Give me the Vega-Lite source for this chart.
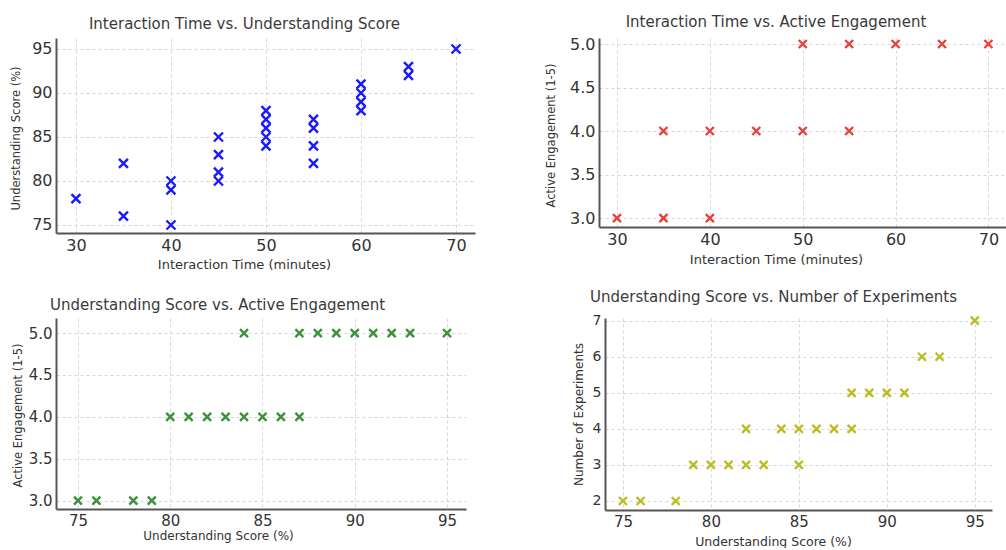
{
  "$schema": "https://vega.github.io/schema/vega-lite/v6.json",
  "background": "white",
  "padding": {"left": 10, "top": 15, "right": 0, "bottom": 0},
  "config": {
    "view": {"stroke": null},
    "font": "DejaVu Sans",
    "title": {"font": "DejaVu Sans", "fontSize": 15, "fontWeight": "normal", "color": "#3a3a3a", "anchor": "middle", "frame": "group", "baseline": "middle"},
    "axis": {
      "labelFont": "DejaVu Sans", "labelFontSize": 15, "labelColor": "#333333",
      "titleFont": "DejaVu Sans", "titleFontSize": 11.5, "titleFontWeight": "normal", "titleColor": "#333333",
      "titleBaseline": "middle",
      "domainColor": "#555555", "domainWidth": 2,
      "ticks": false, "labelPadding": 4,
      "gridColor": "#cccccc", "gridDash": [3, 3], "gridWidth": 0.8
    }
  },
  "datasets": {
    "p1": [
      {"time": 30, "score": 78}, {"time": 35, "score": 82}, {"time": 35, "score": 76},
      {"time": 40, "score": 80}, {"time": 40, "score": 79}, {"time": 40, "score": 75},
      {"time": 45, "score": 85}, {"time": 45, "score": 83}, {"time": 45, "score": 81}, {"time": 45, "score": 80},
      {"time": 50, "score": 88}, {"time": 50, "score": 87}, {"time": 50, "score": 86}, {"time": 50, "score": 85}, {"time": 50, "score": 84},
      {"time": 55, "score": 87}, {"time": 55, "score": 86}, {"time": 55, "score": 84}, {"time": 55, "score": 82},
      {"time": 60, "score": 91}, {"time": 60, "score": 90}, {"time": 60, "score": 89}, {"time": 60, "score": 88},
      {"time": 65, "score": 93}, {"time": 65, "score": 92}, {"time": 70, "score": 95}
    ],
    "p2": [
      {"time": 30, "engagement": 3}, {"time": 35, "engagement": 3}, {"time": 40, "engagement": 3},
      {"time": 35, "engagement": 4}, {"time": 40, "engagement": 4}, {"time": 45, "engagement": 4}, {"time": 50, "engagement": 4}, {"time": 55, "engagement": 4},
      {"time": 50, "engagement": 5}, {"time": 55, "engagement": 5}, {"time": 60, "engagement": 5}, {"time": 65, "engagement": 5}, {"time": 70, "engagement": 5}
    ],
    "p3": [
      {"score": 75, "engagement": 3}, {"score": 76, "engagement": 3}, {"score": 78, "engagement": 3}, {"score": 79, "engagement": 3},
      {"score": 80, "engagement": 4}, {"score": 81, "engagement": 4}, {"score": 82, "engagement": 4}, {"score": 83, "engagement": 4},
      {"score": 84, "engagement": 4}, {"score": 85, "engagement": 4}, {"score": 86, "engagement": 4}, {"score": 87, "engagement": 4},
      {"score": 84, "engagement": 5}, {"score": 87, "engagement": 5}, {"score": 88, "engagement": 5}, {"score": 89, "engagement": 5},
      {"score": 90, "engagement": 5}, {"score": 91, "engagement": 5}, {"score": 92, "engagement": 5}, {"score": 93, "engagement": 5}, {"score": 95, "engagement": 5}
    ],
    "p4": [
      {"score": 75, "experiments": 2}, {"score": 76, "experiments": 2}, {"score": 78, "experiments": 2},
      {"score": 79, "experiments": 3}, {"score": 80, "experiments": 3}, {"score": 81, "experiments": 3}, {"score": 82, "experiments": 3}, {"score": 83, "experiments": 3}, {"score": 85, "experiments": 3},
      {"score": 82, "experiments": 4}, {"score": 84, "experiments": 4}, {"score": 85, "experiments": 4}, {"score": 86, "experiments": 4}, {"score": 87, "experiments": 4}, {"score": 88, "experiments": 4},
      {"score": 88, "experiments": 5}, {"score": 89, "experiments": 5}, {"score": 90, "experiments": 5}, {"score": 91, "experiments": 5},
      {"score": 92, "experiments": 6}, {"score": 93, "experiments": 6}, {"score": 95, "experiments": 7}
    ]
  },
  "spacing": 18,
  "vconcat": [
    {
      "spacing": 124,
      "bounds": "flush",
      "hconcat": [
        {
          "width": 419, "height": 195,
          "title": {"text": "Interaction Time vs. Understanding Score", "dx": -21, "offset": 6},
          "data": {"name": "p1"},
          "mark": {"type": "point", "shape": "M-1,-1L1,1M1,-1L-1,1", "filled": false, "size": 81, "strokeWidth": 2.4, "color": "#1a1aff", "opacity": 1},
          "encoding": {
            "x": {"field": "time", "type": "quantitative", "scale": {"domain": [27.9, 72], "nice": false, "zero": false},
                  "axis": {"title": "Interaction Time (minutes)", "values": [30, 40, 50, 60, 70], "titleX": 188, "titleY": 31, "titleFontSize": 13, "labelFontSize": 16}},
            "y": {"field": "score", "type": "quantitative", "scale": {"domain": [74.09, 96.25], "nice": false, "zero": false},
                  "axis": {"title": "Understanding Score (%)", "values": [75, 80, 85, 90, 95], "titleX": -40, "titleY": 100, "labelFontSize": 16}}
          }
        },
        {
          "width": 408, "height": 189,
          "title": {"text": "Interaction Time vs. Active Engagement", "dx": -27, "offset": 5},
          "data": {"name": "p2"},
          "mark": {"type": "point", "shape": "M-1,-1L1,1M1,-1L-1,1", "filled": false, "size": 64, "strokeWidth": 2.4, "color": "#e8413c", "opacity": 1},
          "encoding": {
            "x": {"field": "time", "type": "quantitative", "scale": {"domain": [28.06, 72], "nice": false, "zero": false},
                  "axis": {"title": "Interaction Time (minutes)", "values": [30, 40, 50, 60, 70], "titleX": 177, "titleY": 32, "titleFontSize": 13, "labelFontSize": 16}},
            "y": {"field": "engagement", "type": "quantitative", "scale": {"domain": [2.897, 5.069], "nice": false, "zero": false},
                  "axis": {"title": "Active Engagement (1-5)", "values": [3, 3.5, 4, 4.5, 5], "format": ".1f", "titleX": -48, "titleY": 97, "labelFontSize": 16}}
          }
        }
      ]
    },
    {
      "spacing": 139,
      "bounds": "flush",
      "hconcat": [
        {
          "width": 410, "height": 191,
          "title": {"text": "Understanding Score vs. Active Engagement", "dx": -43.5, "offset": 5},
          "data": {"name": "p3"},
          "mark": {"type": "point", "shape": "M-1,-1L1,1M1,-1L-1,1", "filled": false, "size": 64, "strokeWidth": 2.4, "color": "#3b923b", "opacity": 1},
          "encoding": {
            "x": {"field": "score", "type": "quantitative", "scale": {"domain": [73.81, 96.03], "nice": false, "zero": false},
                  "axis": {"title": "Understanding Score (%)", "values": [75, 80, 85, 90, 95], "titleX": 162, "titleY": 26, "titleFontSize": 12}},
            "y": {"field": "engagement", "type": "quantitative", "scale": {"domain": [2.9, 5.18], "nice": false, "zero": false},
                  "axis": {"title": "Active Engagement (1-5)", "values": [3, 3.5, 4, 4.5, 5], "format": ".1f", "titleX": -38, "titleY": 97}}
          }
        },
        {
          "width": 387, "height": 192,
          "title": {"text": "Understanding Score vs. Number of Experiments", "dx": -25, "offset": 7},
          "data": {"name": "p4"},
          "mark": {"type": "point", "shape": "M-1,-1L1,1M1,-1L-1,1", "filled": false, "size": 64, "strokeWidth": 2.4, "color": "#bcbd22", "opacity": 1},
          "encoding": {
            "x": {"field": "score", "type": "quantitative", "scale": {"domain": [73.98, 95.98], "nice": false, "zero": false},
                  "axis": {"title": "Understanding Score (%)", "values": [75, 80, 85, 90, 95], "titleX": 168, "titleY": 31, "titleFontSize": 12.5}},
            "y": {"field": "experiments", "type": "quantitative", "scale": {"domain": [1.75, 7.075], "nice": false, "zero": false},
                  "axis": {"title": "Number of Experiments", "values": [2, 3, 4, 5, 6, 7], "titleX": -27, "titleY": 96, "titleFontSize": 12, "labelFontSize": 14}}
          }
        }
      ]
    }
  ]
}
